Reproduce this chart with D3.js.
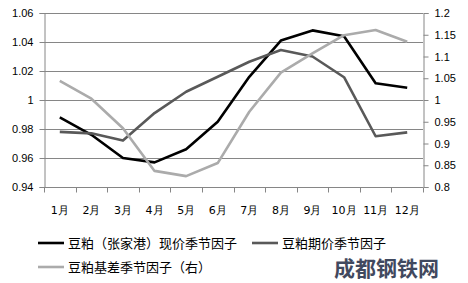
<!DOCTYPE html>
<html>
<head>
<meta charset="utf-8">
<script src="https://cdn.jsdelivr.net/npm/d3@7"></script>
<style>
  body { margin: 0; background: #fff; }
  svg { display: block; font-family: "DejaVu Sans", sans-serif; }
</style>
</head>
<body>
<div id="chart"></div>
<script>
const months = ["1月", "2月", "3月", "4月", "5月", "6月", "7月", "8月", "9月", "10月", "11月", "12月"];
// left axis
const spotFactor = [0.988, 0.976, 0.960, 0.957, 0.966, 0.985, 1.016, 1.041, 1.048, 1.044, 1.0115, 1.0085];
const futuresFactor = [0.978, 0.977, 0.972, 0.991, 1.0057, 1.016, 1.0264, 1.0345, 1.030, 1.0157, 0.975, 0.9777];
// right axis
const basisFactor = [1.044, 1.003, 0.935, 0.837, 0.825, 0.855, 0.973, 1.063, 1.107, 1.149, 1.161, 1.134];

const leftTicks = [0.94, 0.96, 0.98, 1, 1.02, 1.04, 1.06];
const rightTicks = [0.8, 0.85, 0.9, 0.95, 1, 1.05, 1.1, 1.15, 1.2];

const series = [
  { name: "豆粕（张家港）现价季节因子", values: spotFactor, axis: "left", color: "#000000" },
  { name: "豆粕期价季节因子", values: futuresFactor, axis: "left", color: "#595959" },
  { name: "豆粕基差季节因子（右）", values: basisFactor, axis: "right", color: "#ababab" }
];

const width = 468, height = 283;
const margin = { top: 13, right: 45, bottom: 96, left: 44 };

const svg = d3.select("#chart").append("svg")
  .attr("width", width)
  .attr("height", height);

const x = d3.scaleBand().domain(months).range([margin.left, width - margin.right]);
const yL = d3.scaleLinear().domain([0.94, 1.06]).range([height - margin.bottom, margin.top]);
const yR = d3.scaleLinear().domain([0.8, 1.2]).range([height - margin.bottom, margin.top]);

// gridlines
svg.append("g")
  .selectAll("line")
  .data(leftTicks)
  .join("line")
  .attr("x1", margin.left)
  .attr("x2", width - margin.right)
  .attr("y1", (d) => Math.round(yL(d)) + 0.5)
  .attr("y2", (d) => Math.round(yL(d)) + 0.5)
  .attr("stroke", "#868686");

const axisStyle = (g) => {
  g.select(".domain").attr("stroke", "#868686");
  g.selectAll(".tick line").attr("stroke", "#868686");
  g.selectAll("text").attr("fill", "#000").style("font-size", "11px");
};

svg.append("g")
  .attr("transform", `translate(${margin.left + 0.5},0)`)
  .call(d3.axisLeft(yL).tickValues(leftTicks).tickFormat(d3.format("")).tickSizeOuter(0).tickSize(5).tickPadding(6))
  .call(axisStyle);

svg.append("g")
  .attr("transform", `translate(${width - margin.right + 0.5},0)`)
  .call(d3.axisRight(yR).tickValues(rightTicks).tickFormat(d3.format("")).tickSizeOuter(0).tickSize(5).tickPadding(6))
  .call(axisStyle);

// bottom axis with ticks at category boundaries
const xAxis = svg.append("g")
  .attr("transform", `translate(0,${height - margin.bottom + 0.5})`);
xAxis.append("line")
  .attr("x1", margin.left).attr("x2", width - margin.right)
  .attr("stroke", "#868686");
xAxis.selectAll("line.tk")
  .data(d3.range(months.length + 1))
  .join("line")
  .attr("class", "tk")
  .attr("x1", (i) => Math.round(margin.left + i * x.step()) + 0.5)
  .attr("x2", (i) => Math.round(margin.left + i * x.step()) + 0.5)
  .attr("y1", 0).attr("y2", 5)
  .attr("stroke", "#868686");
xAxis.selectAll("text")
  .data(months)
  .join("text")
  .attr("x", (d) => x(d) + x.bandwidth() / 2)
  .attr("y", 26)
  .attr("text-anchor", "middle")
  .style("font-size", "11px")
  .text((d) => d);

// lines
series.forEach((s) => {
  const yScale = s.axis === "left" ? yL : yR;
  const line = d3.line()
    .x((d, i) => x(months[i]) + x.bandwidth() / 2)
    .y((d) => yScale(d));
  svg.append("path")
    .datum(s.values)
    .attr("fill", "none")
    .attr("stroke", s.color)
    .attr("stroke-width", 2.6)
    .attr("stroke-linejoin", "round")
    .attr("d", line);
});

// legend
const legendPos = [
  { x: 38, y: 243 },
  { x: 252, y: 243 },
  { x: 38, y: 267 }
];
const legend = svg.append("g");
series.forEach((s, i) => {
  const p = legendPos[i];
  legend.append("line")
    .attr("x1", p.x).attr("x2", p.x + 26)
    .attr("y1", p.y).attr("y2", p.y)
    .attr("stroke", s.color)
    .attr("stroke-width", 2.6);
  legend.append("text")
    .attr("x", p.x + 30)
    .attr("y", p.y + 4.5)
    .style("font-size", "13px")
    .style("font-family", "'Noto Sans CJK SC', sans-serif")
    .text(s.name);
});

// watermark logo
svg.append("text")
  .attr("x", 334)
  .attr("y", 276)
  .style("font-size", "21px")
  .style("font-weight", "bold")
  .style("font-family", "'Noto Sans CJK SC', sans-serif")
  .attr("fill", "#1f2a44")
  .attr("opacity", 0.85)
  .text("成都钢铁网");
</script>
</body>
</html>
